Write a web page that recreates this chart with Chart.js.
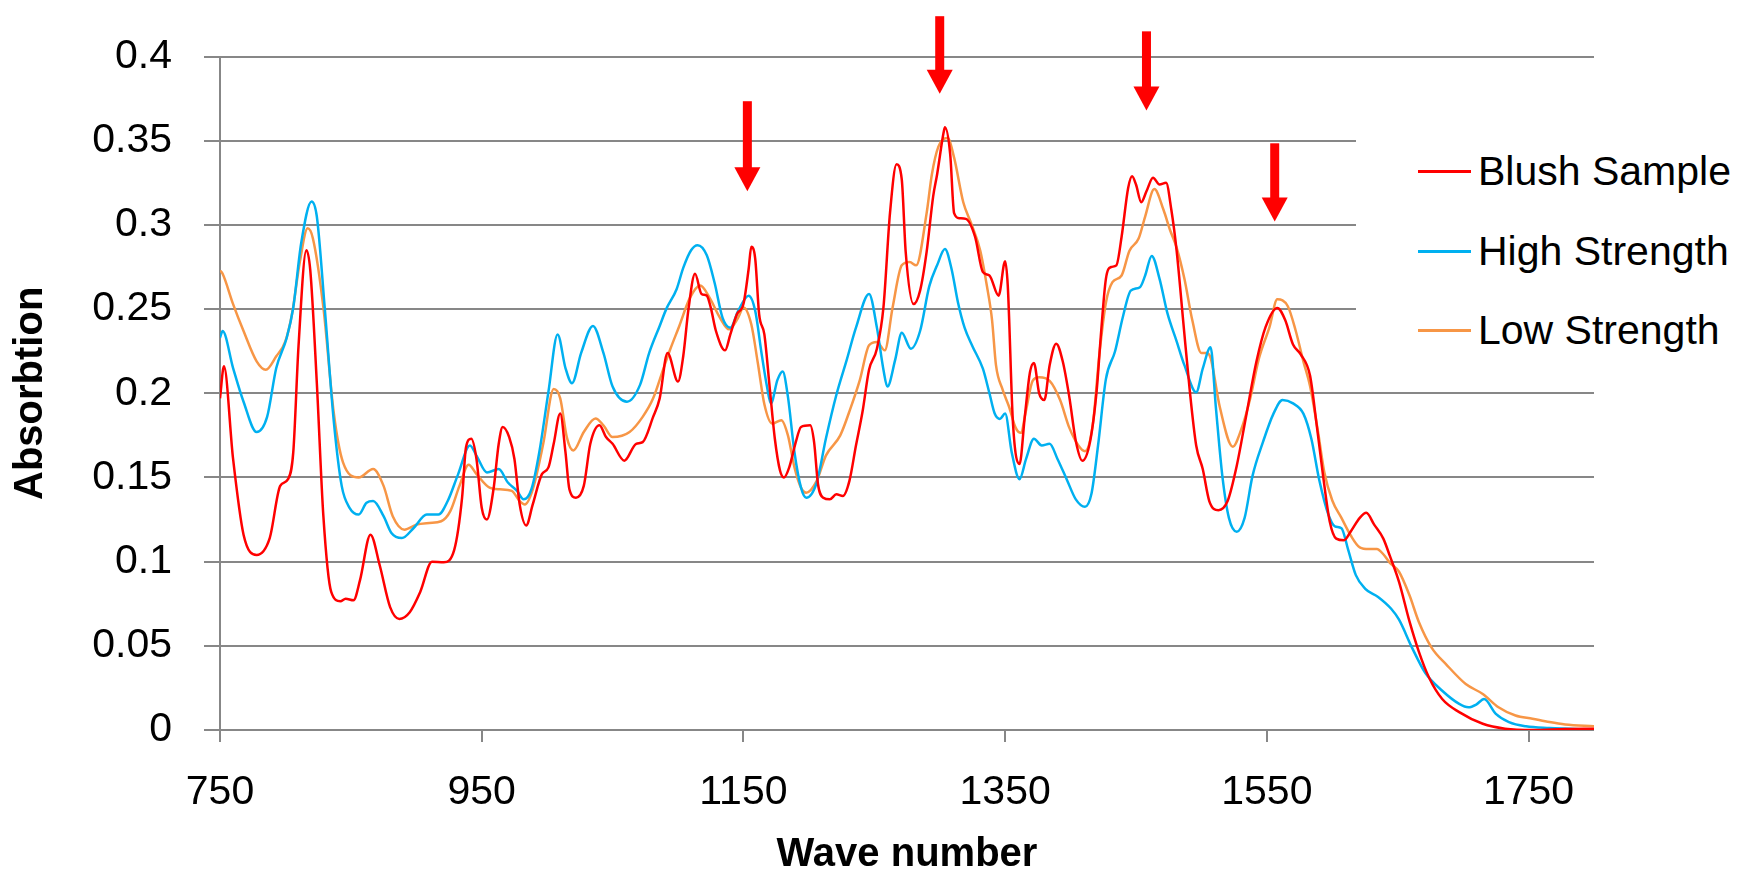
<!DOCTYPE html>
<html>
<head>
<meta charset="utf-8">
<script src="https://cdn.jsdelivr.net/npm/chart.js@4.4.1/dist/chart.umd.min.js"></script>
<style>
  body { margin: 0; background: #fff; }
  #wrap { position: relative; width: 1758px; height: 877px; }
  #legend {
    position: absolute; left: 1356px; top: 95px; width: 402px; height: 275px;
    background: #fff; margin: 0; padding: 37px 0 0 62px; box-sizing: border-box; list-style: none;
    font-family: "Liberation Sans", Arial, sans-serif; font-size: 41px; color: #000;
  }
  #legend li { display: flex; align-items: center; height: 79.5px; white-space: nowrap; }
  #legend .sw { width: 53px; height: 3px; margin-right: 7px; }
</style>
</head>
<body>
<div id="wrap">
  <canvas id="absChart" width="1758" height="877"></canvas>
  <ul id="legend"></ul>
</div>
<script>
const seriesNames = ['Blush Sample', 'High Strength', 'Low Strength'];
const seriesColors = ['#FF0000', '#00B0F0', '#F79646'];
const xTicks = [750, 950, 1150, 1350, 1550, 1750];

// Blush Sample
const blushX = [750, 753, 760, 768, 778, 788, 796, 802, 806, 810, 816, 819, 824, 829, 835, 842, 846, 852, 857, 865,
  872, 880, 887, 895, 903, 912, 921, 929, 935, 938, 942, 946, 950, 954, 959, 963, 966, 971, 975, 979,
  984, 989, 996, 1001, 1005, 1010, 1014, 1017, 1022, 1028, 1033, 1040, 1045, 1050, 1059, 1068, 1073, 1081, 1086, 1092,
  1100, 1104, 1108, 1113, 1118, 1122, 1125, 1129, 1136, 1140, 1145, 1150, 1154, 1156, 1159, 1162, 1166, 1170, 1174, 1178,
  1181, 1185, 1190, 1194, 1201, 1204, 1207, 1211, 1216, 1221, 1226, 1231, 1236, 1241, 1246, 1252, 1257, 1262, 1267, 1271,
  1274, 1280, 1285, 1290, 1295, 1298, 1303, 1304, 1308, 1311, 1315, 1320, 1327, 1333, 1338, 1345, 1350, 1352, 1356, 1361,
  1365, 1369, 1372, 1376, 1380, 1384, 1389, 1394, 1399, 1404, 1409, 1415, 1420, 1423, 1427, 1431, 1435, 1439, 1444, 1447,
  1450, 1454, 1458, 1463, 1468, 1473, 1477, 1481, 1486, 1491, 1496, 1501, 1506, 1513, 1520, 1527, 1534, 1542, 1549, 1558,
  1564, 1570, 1576, 1583, 1588, 1593, 1598, 1603, 1609, 1614, 1621, 1626, 1632, 1639, 1644, 1651, 1659, 1666, 1674, 1684,
  1697, 1715, 1732, 1753, 1778, 1800];
const blushY = [0.197, 0.216, 0.161, 0.116, 0.104, 0.114, 0.145, 0.149, 0.165, 0.228, 0.285, 0.273, 0.206, 0.127, 0.082, 0.0765, 0.078, 0.077, 0.089, 0.116,
  0.098, 0.073, 0.066, 0.070, 0.082, 0.100, 0.0997, 0.107, 0.138, 0.168, 0.173, 0.161, 0.132, 0.125, 0.143, 0.170, 0.180, 0.174, 0.161, 0.134,
  0.1215, 0.134, 0.152, 0.156, 0.170, 0.188, 0.165, 0.143, 0.138, 0.145, 0.170, 0.181, 0.174, 0.170, 0.160, 0.170, 0.171, 0.186, 0.197, 0.224,
  0.207, 0.222, 0.250, 0.271, 0.259, 0.258, 0.251, 0.237, 0.2255, 0.235, 0.247, 0.253, 0.274, 0.287, 0.280, 0.247, 0.235, 0.204, 0.173, 0.154,
  0.150, 0.156, 0.171, 0.180, 0.181, 0.171, 0.146, 0.138, 0.137, 0.140, 0.139, 0.148, 0.169, 0.189, 0.214, 0.2265, 0.251, 0.307, 0.336, 0.327,
  0.284, 0.253, 0.261, 0.284, 0.317, 0.330, 0.355, 0.358, 0.342, 0.307, 0.304, 0.3036, 0.293, 0.272, 0.270, 0.258, 0.2785, 0.264, 0.182, 0.158,
  0.186, 0.2126, 0.218, 0.200, 0.196, 0.2167, 0.2295, 0.219, 0.198, 0.1717, 0.160, 0.1717, 0.202, 0.233, 0.268, 0.275, 0.276, 0.293, 0.322, 0.329,
  0.324, 0.3135, 0.320, 0.328, 0.324, 0.325, 0.309, 0.285, 0.2435, 0.2023, 0.169, 0.155, 0.136, 0.1306, 0.136, 0.157, 0.1858, 0.2187, 0.2393, 0.2507,
  0.2435, 0.229, 0.223, 0.2105, 0.1817, 0.1508, 0.124, 0.1137, 0.1127, 0.1178, 0.126, 0.129, 0.122, 0.1137, 0.1034, 0.088, 0.0645, 0.0469, 0.031, 0.0184,
  0.0106, 0.0037, 0.0008, 0, 0.0006, 0.0008];

// High Strength
const highX = [750, 752, 760, 768, 778, 786, 793, 801, 806, 812, 820, 824, 830, 837, 843, 849, 856, 862, 867, 875,
  881, 889, 898, 908, 917, 924, 932, 941, 946, 954, 963, 970, 977, 982, 988, 994, 1001, 1008, 1014, 1019,
  1026, 1035, 1043, 1050, 1061, 1071, 1078, 1086, 1091, 1099, 1104, 1110, 1115, 1122, 1128, 1134, 1140, 1146, 1154, 1159,
  1164, 1168, 1171, 1176, 1180, 1184, 1189, 1194, 1198, 1206, 1213, 1221, 1229, 1236, 1246, 1252, 1257, 1260, 1266, 1271,
  1278, 1285, 1292, 1298, 1304, 1309, 1314, 1319, 1325, 1333, 1338, 1342, 1346, 1350, 1355, 1361, 1366, 1372, 1378, 1384,
  1390, 1397, 1404, 1411, 1416, 1421, 1427, 1434, 1440, 1446, 1453, 1457, 1462, 1468, 1474, 1481, 1487, 1496, 1501, 1507,
  1511, 1516, 1521, 1527, 1533, 1539, 1547, 1555, 1562, 1570, 1578, 1584, 1590, 1597, 1602, 1607, 1612, 1618, 1625, 1635,
  1645, 1651, 1661, 1671, 1684, 1697, 1704, 1710, 1716, 1725, 1735, 1748, 1766, 1800];
const highY = [0.233, 0.237, 0.215, 0.195, 0.177, 0.186, 0.215, 0.233, 0.251, 0.289, 0.314, 0.305, 0.251, 0.183, 0.145, 0.132, 0.128, 0.135, 0.136, 0.127,
  0.117, 0.114, 0.120, 0.128, 0.128, 0.136, 0.152, 0.169, 0.163, 0.153, 0.155, 0.147, 0.142, 0.137, 0.143, 0.165, 0.201, 0.235, 0.215, 0.206,
  0.224, 0.240, 0.224, 0.204, 0.195, 0.205, 0.224, 0.240, 0.250, 0.262, 0.2745, 0.285, 0.288, 0.282, 0.2655, 0.245, 0.239, 0.249, 0.258, 0.249,
  0.223, 0.204, 0.194, 0.208, 0.213, 0.198, 0.165, 0.144, 0.138, 0.147, 0.173, 0.199, 0.220, 0.239, 0.259, 0.239, 0.214, 0.204, 0.220, 0.236,
  0.2265, 0.237, 0.2635, 0.276, 0.2857, 0.274, 0.2538, 0.239, 0.228, 0.2146, 0.200, 0.188, 0.1848, 0.188, 0.165, 0.149, 0.161, 0.173, 0.169, 0.170,
  0.161, 0.149, 0.137, 0.1326, 0.1405, 0.169, 0.2084, 0.225, 0.2455, 0.261, 0.263, 0.270, 0.2816, 0.268, 0.2476, 0.231, 0.2167, 0.2006, 0.2146, 0.2274,
  0.192, 0.1508, 0.126, 0.1178, 0.126, 0.1508, 0.171, 0.1878, 0.196, 0.194, 0.1878, 0.173, 0.1487, 0.128, 0.121, 0.1199, 0.1075, 0.092, 0.084, 0.079,
  0.072, 0.0655, 0.0488, 0.034, 0.0233, 0.0155, 0.0135, 0.0151, 0.0184, 0.0096, 0.0047, 0.0022, 0.0012, 0.0002];

// Low Strength
const lowX = [750, 752, 760, 768, 778, 785, 793, 800, 805, 811, 817, 821, 829, 837, 844, 856, 867, 875, 882, 891,
  900, 910, 919, 926, 933, 940, 946, 956, 964, 973, 979, 983, 989, 997, 1005, 1010, 1015, 1020, 1028, 1037,
  1043, 1050, 1063, 1073, 1081, 1089, 1094, 1101, 1109, 1117, 1124, 1132, 1139, 1146, 1150, 1156, 1161, 1166, 1172, 1179,
  1184, 1189, 1194, 1198, 1206, 1213, 1224, 1232, 1239, 1246, 1252, 1258, 1264, 1271, 1277, 1282, 1290, 1294, 1299, 1306,
  1311, 1318, 1324, 1331, 1336, 1340, 1343, 1348, 1353, 1358, 1362, 1366, 1371, 1376, 1384, 1392, 1399, 1406, 1411, 1417,
  1422, 1427, 1432, 1439, 1445, 1452, 1457, 1464, 1471, 1476, 1481, 1487, 1493, 1500, 1504, 1507, 1514, 1524, 1530, 1537,
  1544, 1552, 1558, 1566, 1572, 1578, 1583, 1589, 1594, 1600, 1607, 1614, 1621, 1628, 1634, 1639, 1644, 1651, 1659, 1666,
  1676, 1687, 1702, 1715, 1727, 1740, 1753, 1766, 1778, 1800];
const lowY = [0.273, 0.271, 0.253, 0.237, 0.219, 0.214, 0.222, 0.231, 0.247, 0.278, 0.298, 0.292, 0.251, 0.188, 0.159, 0.150, 0.155, 0.145, 0.127, 0.119,
  0.122, 0.123, 0.124, 0.130, 0.145, 0.1575, 0.152, 0.144, 0.143, 0.142, 0.136, 0.134, 0.143, 0.170, 0.2025, 0.197, 0.174, 0.166, 0.177, 0.185,
  0.181, 0.174, 0.177, 0.186, 0.197, 0.215, 0.226, 0.240, 0.2565, 0.264, 0.257, 0.245, 0.238, 0.245, 0.251, 0.241, 0.218, 0.1935, 0.182, 0.184,
  0.175, 0.156, 0.144, 0.141, 0.148, 0.163, 0.175, 0.1915, 0.208, 0.2285, 0.2305, 0.2255, 0.251, 0.276, 0.278, 0.276, 0.307, 0.330, 0.3465, 0.3516,
  0.340, 0.3135, 0.301, 0.2847, 0.264, 0.2435, 0.2167, 0.2023, 0.192, 0.1796, 0.1765, 0.190, 0.2074, 0.2095, 0.2074, 0.196, 0.1796, 0.169, 0.1656, 0.1817,
  0.223, 0.2538, 0.266, 0.270, 0.2847, 0.2919, 0.305, 0.3213, 0.309, 0.297, 0.2867, 0.268, 0.2435, 0.2239, 0.2239, 0.221, 0.192, 0.1683, 0.1776, 0.196,
  0.2208, 0.2393, 0.2558, 0.2517, 0.2373, 0.2187, 0.2043, 0.1776, 0.1528, 0.1363, 0.126, 0.1157, 0.1085, 0.1075, 0.1075, 0.1044, 0.0993, 0.094, 0.080, 0.0645,
  0.0488, 0.039, 0.0273, 0.0214, 0.0135, 0.0086, 0.0067, 0.0047, 0.0033, 0.0022];

// red marker arrows: wave number, top and tip (absorbtion units)
const arrowX = [1153, 1300, 1458, 1556];
const arrowTop = [0.3735, 0.424, 0.415, 0.3485];
const arrowTip = [0.32, 0.378, 0.368, 0.302];

const toPoints = (xs, ys) => xs.map((x, i) => ({ x: x, y: ys[i] }));
const seriesData = [toPoints(blushX, blushY), toPoints(highX, highY), toPoints(lowX, lowY)];

const arrowPlugin = {
  id: 'arrows',
  afterDatasetsDraw(chart) {
    const ctx = chart.ctx;
    const xs = chart.scales.x, ys = chart.scales.y;
    ctx.save();
    ctx.fillStyle = '#FF0000';
    arrowX.forEach((wn, i) => {
      const px = xs.getPixelForValue(wn);
      const top = ys.getPixelForValue(arrowTop[i]);
      const tip = ys.getPixelForValue(arrowTip[i]);
      const headLen = 24, headHalf = 13, shaftHalf = 4.5;
      ctx.fillRect(px - shaftHalf, top, shaftHalf * 2, tip - headLen - top + 1);
      ctx.beginPath();
      ctx.moveTo(px - headHalf, tip - headLen);
      ctx.lineTo(px + headHalf, tip - headLen);
      ctx.lineTo(px, tip);
      ctx.closePath();
      ctx.fill();
    });
    ctx.restore();
  }
};

const tickFont = { family: '"Liberation Sans", Arial, sans-serif', size: 41 };
const titleFont = { family: '"Liberation Sans", Arial, sans-serif', size: 40, weight: 'bold', lineHeight: 1 };
const gridColor = '#878787';

new Chart(document.getElementById('absChart').getContext('2d'), {
  type: 'line',
  data: {
    datasets: seriesNames.map((name, i) => ({
      label: name,
      data: seriesData[i],
      borderColor: seriesColors[i],
      backgroundColor: seriesColors[i],
      borderWidth: 2.5,
      pointRadius: 0,
      fill: false,
      cubicInterpolationMode: 'monotone'
    }))
  },
  options: {
    responsive: false,
    animation: false,
    devicePixelRatio: 1,
    layout: { padding: { top: 50, right: 164, left: 0, bottom: 0 } },
    plugins: {
      legend: { display: false },
      tooltip: { enabled: false }
    },
    scales: {
      x: {
        type: 'linear',
        min: 750,
        max: 1800,
        afterBuildTicks: scale => { scale.ticks = xTicks.map(v => ({ value: v })); },
        afterFit: scale => { scale.height = 147; },
        grid: { drawOnChartArea: false, drawTicks: true, tickLength: 12, color: gridColor, lineWidth: 2 },
        border: { display: false },
        ticks: {
          font: tickFont, color: '#000', padding: 26, maxRotation: 0, autoSkip: false,
          callback: v => String(v)
        },
        title: { display: true, text: 'Wave number', font: titleFont, color: '#000', padding: { top: 0, bottom: 2 } }
      },
      y: {
        min: 0,
        max: 0.4,
        ticks: {
          stepSize: 0.05, font: tickFont, color: '#000', padding: 32,
          callback: v => String(parseFloat(Number(v).toFixed(2)))
        },
        afterFit: scale => { scale.width = 220; },
        grid: { color: gridColor, lineWidth: 2, tickLength: 16 },
        border: { display: true, color: gridColor, width: 2 },
        title: { display: true, text: 'Absorbtion', font: titleFont, color: '#000', padding: { top: 11, bottom: 0 } }
      }
    }
  },
  plugins: [arrowPlugin]
});

const legendEl = document.getElementById('legend');
seriesNames.forEach((name, i) => {
  const li = document.createElement('li');
  const sw = document.createElement('span');
  sw.className = 'sw';
  sw.style.background = seriesColors[i];
  li.appendChild(sw);
  li.appendChild(document.createTextNode(name));
  legendEl.appendChild(li);
});
</script>
</body>
</html>
